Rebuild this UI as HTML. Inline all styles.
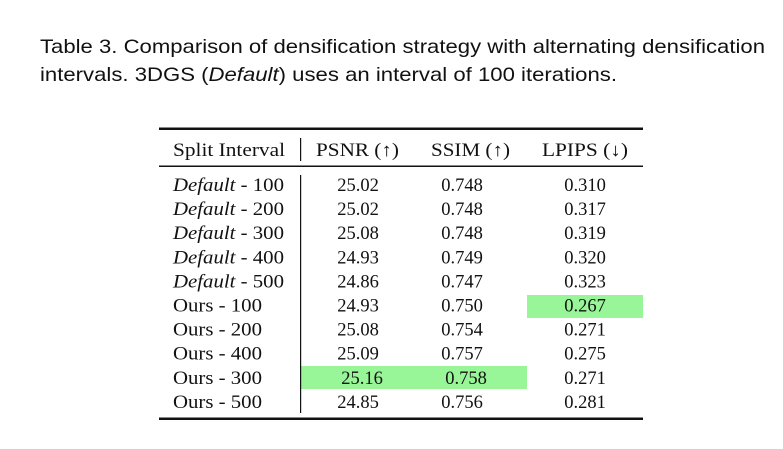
<!DOCTYPE html>
<html><head><meta charset="utf-8"><style>
html,body{margin:0;padding:0;background:#fff;}
svg{display:block;}
.cap{font-family:"Liberation Sans",sans-serif;font-size:19.5px;fill:#111;}
.t{font-family:"Liberation Serif",serif;font-size:18.5px;fill:#111;}
</style></head><body>
<svg width="783" height="449" viewBox="0 0 783 449">
<text class="cap" x="40" y="53" textLength="725" lengthAdjust="spacingAndGlyphs">Table 3.  Comparison of densification strategy with alternating densification</text>
<text class="cap" x="40" y="81" textLength="577" lengthAdjust="spacingAndGlyphs">intervals. 3DGS (<tspan font-style="italic">Default</tspan>) uses an interval of 100 iterations.</text>

<rect x="527" y="295" width="116" height="23" fill="#98f598"/>
<rect x="301" y="366" width="226" height="23" fill="#98f598"/>

<rect x="159" y="127.5" width="484" height="2.5" fill="#111"/>
<rect x="159" y="165.5" width="484" height="1.5" fill="#111"/>
<rect x="159" y="417.5" width="484" height="2.5" fill="#111"/>
<rect x="300" y="138" width="1.2" height="23" fill="#111"/>
<rect x="300" y="175" width="1.2" height="238" fill="#111"/>

<g>
<text class="t" x="173" y="156" textLength="112" lengthAdjust="spacingAndGlyphs">Split Interval</text>
<text class="t" x="316" y="156" textLength="83" lengthAdjust="spacingAndGlyphs">PSNR (↑)</text>
<text class="t" x="431" y="156" textLength="79" lengthAdjust="spacingAndGlyphs">SSIM (↑)</text>
<text class="t" x="542" y="156" textLength="86" lengthAdjust="spacingAndGlyphs">LPIPS (↓)</text>
</g>
<g id="body"></g>
</svg>
<script>
const labels=["Default","Default","Default","Default","Default","Ours","Ours","Ours","Ours","Ours"];
const intervals=["100","200","300","400","500","100","200","400","300","500"];
const psnr=["25.02","25.02","25.08","24.93","24.86","24.93","25.08","25.09","25.16","24.85"];
const ssim=["0.748","0.748","0.748","0.749","0.747","0.750","0.754","0.757","0.758","0.756"];
const lpips=["0.310","0.317","0.319","0.320","0.323","0.267","0.271","0.275","0.271","0.281"];
const NS="http://www.w3.org/2000/svg";
const body=document.getElementById('body');
function txt(x,y,anchor,name){
  const t=document.createElementNS(NS,'text');
  t.setAttribute('class','t');
  t.setAttribute('x',x);t.setAttribute('y',y);
  if(anchor)t.setAttribute('text-anchor',anchor);
  
  
  body.appendChild(t);return t;
}
for(let i=0;i<labels.length;i++){
  const y=191+i*24.1;
  const l=txt(173,y,null,'row-label');
  l.setAttribute('lengthAdjust','spacingAndGlyphs');
  if(labels[i]==="Default"){
    const it=document.createElementNS(NS,'tspan');it.setAttribute('font-style','italic');it.textContent='Default';
    l.appendChild(it);l.appendChild(document.createTextNode(' - '+intervals[i]));
    l.setAttribute('textLength','111');
  } else {l.textContent=labels[i]+' - '+intervals[i];l.setAttribute('textLength','89');}
  const hi=(i===8)?4:0;
  txt(358+hi,y,'middle','psnr-cell').textContent=psnr[i];
  txt(462+hi,y,'middle','ssim-cell').textContent=ssim[i];
  txt(585,y,'middle','lpips-cell').textContent=lpips[i];
}
</script>
</body></html>
